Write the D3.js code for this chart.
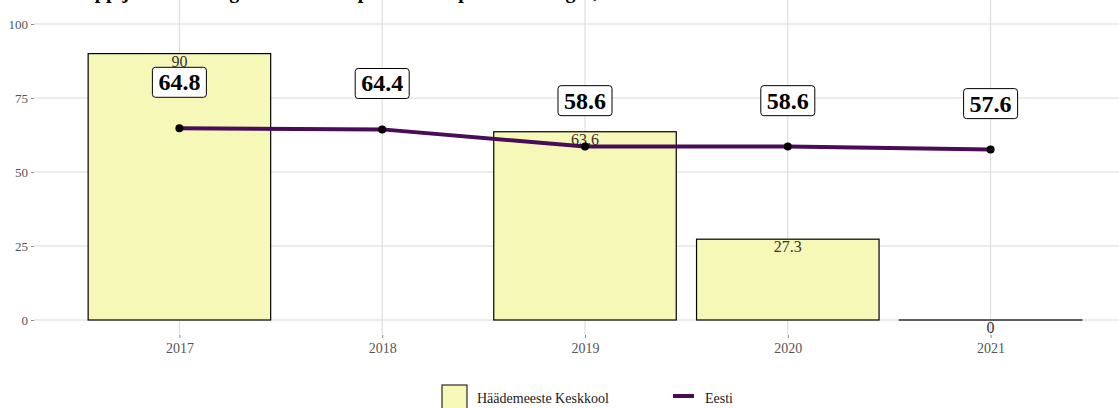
<!DOCTYPE html>
<html>
<head>
<meta charset="utf-8">
<script src="https://cdn.jsdelivr.net/npm/d3@7"></script>
<style>
  html, body { margin: 0; padding: 0; background: #fff; }
  svg { display: block; }
</style>
</head>
<body>
<div id="chart"></div>
<script>
// data
const years      = ["2017", "2018", "2019", "2020", "2021"];
const schoolVals = [90, null, 63.6, 27.3, 0];      // Häädemeeste Keskkool (bars), 2018 missing
const estVals    = [64.8, 64.4, 58.6, 58.6, 57.6]; // Eesti (line)
const yTicks     = [0, 25, 50, 75, 100];
const seriesNames = ["Häädemeeste Keskkool", "Eesti"];
const titleText  = "Edasiõppijate osakaal gümnaasiumis põhikooli lõpetanute hulgas, %";

const W = 1119, H = 408;
const serif = "'Liberation Serif', 'Times New Roman', serif";
const barFill = "#f6f8b8", lineCol = "#4a0b59", gridCol = "#d9d9d9";

const svg = d3.select("#chart").append("svg")
  .attr("width", W).attr("height", H);

// scales
const panelLeft = 34;
const x = d3.scalePoint().domain(years).range([panelLeft, 1136]).padding(0.717);
const step = x.step();
const barW = step * 0.9;
const y = d3.scaleLinear().domain([0, 100]).range([320, 24]);
const panelBottom = 335;

// title (cropped off at the top in the original, only descenders show)
svg.append("text")
  .attr("x", 37).attr("y", -2)
  .style("font-family", serif).style("font-size", "20px").style("font-weight", "bold")
  .text(titleText);

// grid
svg.append("g").selectAll("line.h")
  .data(yTicks).enter().append("line")
  .attr("x1", panelLeft).attr("x2", W)
  .attr("y1", d => y(d)).attr("y2", d => y(d))
  .attr("stroke", gridCol).attr("stroke-width", 1);

svg.append("g").selectAll("line.v")
  .data(years).enter().append("line")
  .attr("x1", d => x(d)).attr("x2", d => x(d))
  .attr("y1", 0).attr("y2", panelBottom)
  .attr("stroke", gridCol).attr("stroke-width", 1);

// y axis
const yAxis = svg.append("g")
  .attr("transform", "translate(" + panelLeft + ",0)")
  .call(d3.axisLeft(y).tickValues(yTicks).tickSize(3).tickPadding(3));
yAxis.select(".domain").remove();
yAxis.selectAll("line").attr("stroke", "#8c8c8c");
yAxis.selectAll("text").style("font-family", serif).style("font-size", "13px").attr("fill", "#555");

// x axis
const xAxis = svg.append("g")
  .attr("transform", "translate(0," + panelBottom + ")")
  .call(d3.axisBottom(x).tickSize(3).tickPadding(5));
xAxis.select(".domain").remove();
xAxis.selectAll("line").attr("stroke", "#8c8c8c");
xAxis.selectAll("text").style("font-family", serif).style("font-size", "14px").attr("fill", "#555");

// bars (a zero bar still shows its outline as a flat line)
const barData = years.map((yr, i) => ({ year: yr, value: schoolVals[i] })).filter(d => d.value !== null);

svg.append("g").selectAll("rect")
  .data(barData).enter().append("rect")
  .attr("x", d => x(d.year) - barW / 2)
  .attr("y", d => y(d.value))
  .attr("width", barW)
  .attr("height", d => Math.max(y(0) - y(d.value), 0.01))
  .attr("fill", barFill)
  .attr("stroke", "#000").attr("stroke-width", 1.2);

// bar labels
svg.append("g").selectAll("text")
  .data(barData).enter().append("text")
  .attr("x", d => x(d.year))
  .attr("y", d => y(d.value) + 13)
  .attr("text-anchor", "middle")
  .style("font-family", serif).style("font-size", "16px")
  .attr("fill", "#333")
  .text(d => d.value);

// Eesti line
const lineData = years.map((yr, i) => ({ year: yr, value: estVals[i] }));
svg.append("path")
  .datum(lineData)
  .attr("d", d3.line().x(d => x(d.year)).y(d => y(d.value)))
  .attr("fill", "none").attr("stroke", lineCol).attr("stroke-width", 4);

svg.append("g").selectAll("circle")
  .data(lineData).enter().append("circle")
  .attr("cx", d => x(d.year)).attr("cy", d => y(d.value))
  .attr("r", 4).attr("fill", "#000");

// boxed labels above the line
const lab = svg.append("g").selectAll("g")
  .data(lineData).enter().append("g")
  .attr("transform", d => "translate(" + x(d.year) + "," + y(d.value + 15.5) + ")");

lab.append("text")
  .attr("text-anchor", "middle").attr("y", 8)
  .style("font-family", serif).style("font-size", "24px").style("font-weight", "bold")
  .attr("fill", "#000")
  .text(d => d.value.toFixed(1));

lab.each(function () {
  const g = d3.select(this);
  const bb = g.select("text").node().getBBox();
  g.insert("rect", "text")
    .attr("x", bb.x - 6).attr("y", -15)
    .attr("width", bb.width + 12).attr("height", 30)
    .attr("rx", 3).attr("ry", 3)
    .attr("fill", "#fff").attr("stroke", "#000").attr("stroke-width", 1);
});

// legend
const leg = svg.append("g");
leg.append("rect")
  .attr("x", 442).attr("y", 385).attr("width", 25).attr("height", 26)
  .attr("fill", barFill).attr("stroke", "#000").attr("stroke-width", 1);
leg.append("text")
  .attr("x", 477).attr("y", 403)
  .style("font-family", serif).style("font-size", "14px").attr("fill", "#1a1a1a")
  .text(seriesNames[0]);
leg.append("line")
  .attr("x1", 673).attr("x2", 694).attr("y1", 396).attr("y2", 396)
  .attr("stroke", lineCol).attr("stroke-width", 4);
leg.append("text")
  .attr("x", 705).attr("y", 403)
  .style("font-family", serif).style("font-size", "14px").attr("fill", "#1a1a1a")
  .text(seriesNames[1]);
</script>
</body>
</html>
